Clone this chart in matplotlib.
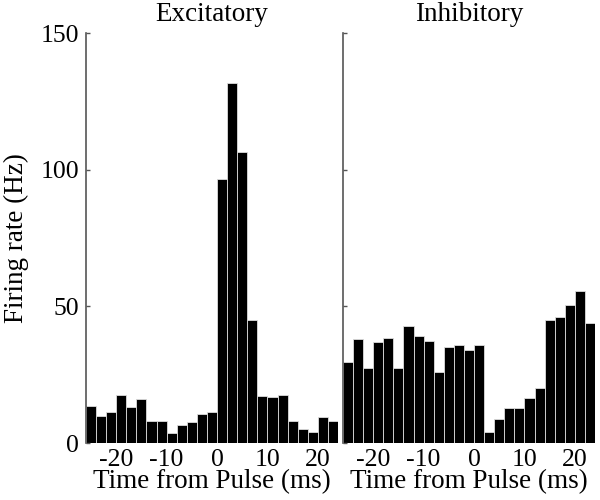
import numpy as np
import matplotlib
matplotlib.use("Agg")
import matplotlib.pyplot as plt

plt.rcParams['font.family'] = ['Liberation Serif', 'DejaVu Serif']
plt.rcParams['axes.unicode_minus'] = False

# Bin left edges (ms) of 2 ms bins
bin_width = 2.0
bin_left = np.arange(-26.0, 24.0, bin_width)

excitatory = [13.4, 10.0, 11.5, 17.7, 13.0, 16.2, 7.9, 7.9, 3.7, 6.7, 7.6, 10.6, 11.5,
              96.6, 131.7, 106.3, 45.1, 17.1, 16.7, 17.7, 7.9, 5.2, 4.1, 9.5, 7.9]
inhibitory = [29.8, 38.0, 27.4, 36.8, 38.4, 27.4, 42.9, 39.0, 37.4, 25.9, 35.1, 35.7, 34.0,
              35.7, 4.1, 8.8, 12.7, 12.7, 16.5, 20.2, 45.1, 46.1, 50.6, 55.5, 43.9]

titles = ["Excitatory", "Inhibitory"]
xticks = [-20, -10, 0, 10, 20]
yticks = [0, 50, 100, 150]
xlabel = "Time from Pulse (ms)"
ylabel = "Firing rate (Hz)"

fig = plt.figure(figsize=(6, 5), dpi=100)
W, H = 600, 500
axes = [fig.add_axes([86 / W, 1 - 443 / H, 252 / W, 410 / H]),
        fig.add_axes([343 / W, 1 - 443 / H, 252 / W, 410 / H])]

for i, (ax, data, title) in enumerate(zip(axes, [excitatory, inhibitory], titles)):
    ax.bar(bin_left, data, width=bin_width, align='edge', color='black',
           edgecolor='#dddddd', linewidth=0.6)
    ax.set_xlim(bin_left[0], bin_left[-1] + bin_width)
    ax.set_ylim(0, 150)
    for s in ['top', 'right', 'bottom']:
        ax.spines[s].set_visible(False)
    ax.spines['left'].set_color('#555555')
    ax.spines['left'].set_linewidth(1.2)
    ax.set_xticks(xticks)
    ax.set_xticklabels([str(t) for t in xticks])
    ax.tick_params(axis='x', length=0, labelsize=18.5, pad=4)
    ax.set_yticks(yticks)
    ax.tick_params(axis='y', direction='in', length=3, width=1, color='#555555',
                   labelsize=18.5, pad=5)
    if i == 1:
        ax.tick_params(axis='y', labelleft=False)
    else:
        ax.set_ylabel(ylabel, fontsize=19.5, labelpad=8)
    ax.set_xlabel(xlabel, fontsize=19.5, labelpad=-1)
    ax.set_title(title, fontsize=19.5, pad=9)

fig.savefig("out.png", dpi=100)
